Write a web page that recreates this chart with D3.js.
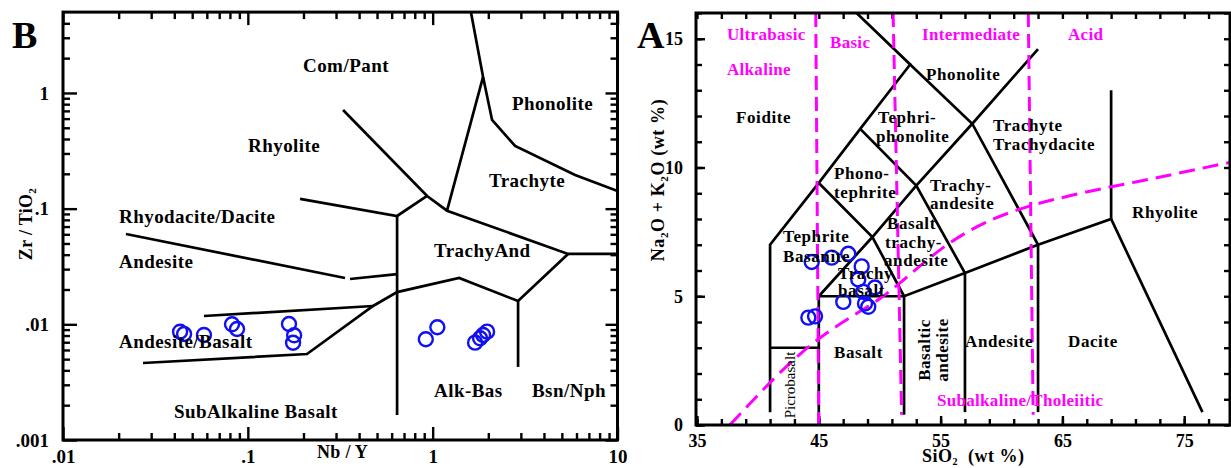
<!DOCTYPE html>
<html><head><meta charset="utf-8">
<script src="https://cdn.jsdelivr.net/npm/d3@7"></script>
<style>
body{margin:0;background:#fff;}
svg{display:block;}
text{font-family:"Liberation Serif","Times New Roman",serif;font-weight:bold;}
</style></head><body>
<svg id="c" width="1231" height="468"></svg>
<script>
// ================= Panel B : Zr/TiO2 vs Nb/Y =================
const bNbY    = [0.043,0.0452,0.0579,0.0821,0.0874,0.167,0.178,0.1757,0.918,1.06,1.696,1.805,1.874,1.97];
const bZrTiO2 = [0.00863,0.00825,0.00809,0.0100,0.00911,0.01006,0.00804,0.00693,0.00743,0.00943,0.00694,0.00757,0.00809,0.00864];
const bXTicks = [0.01,0.1,1,10];
const bXTickLabels = [".01",".1","1","10"];
const bYTicks = [0.001,0.01,0.1,1];
const bYTickLabels = [".001",".01",".1","1"];
const bFieldLines = [
  [[1.614,4.9],[1.874,1.375],[2.096,0.584],[2.792,0.348],[5.897,0.1954],[10,0.142]],
  [[1.874,1.375],[1.196,0.096]],
  [[0.3275,0.713],[0.933,0.1287],[1.196,0.096],[5.403,0.0406],[10,0.0406]],
  [[0.1917,0.1213],[0.642,0.0864],[0.933,0.1287]],
  [[0.642,0.0864],[0.642,0.001645]],
  [[0.0219,0.0604],[0.3357,0.02515]],
  [[0.357,0.02466],[0.642,0.0272]],
  [[0.0271,0.00463],[0.209,0.00554],[0.476,0.0144],[0.642,0.019],[1.39,0.02515],[2.898,0.0159],[5.403,0.0406]],
  [[0.0579,0.0118],[0.476,0.0144]],
  [[2.898,0.0159],[2.898,0.00428]]
];
const bFieldNames = ["Com/Pant","Phonolite","Rhyolite","Trachyte","Rhyodacite/Dacite","Andesite",
  "TrachyAnd","Andesite/Basalt","SubAlkaline Basalt","Alk-Bas","Bsn/Nph"];

// ================= Panel A : TAS =================
const aSiO2   = [44.42,46.06,47.42,48.52,48.24,49.61,48.65,47.01,48.79,49.06,44.14,44.69];
const aAlkali = [6.33,6.50,6.65,6.16,5.65,5.34,5.17,4.78,4.72,4.59,4.17,4.22];
const aXTicks = [35,45,55,65,75];
const aYTicks = [0,5,10,15];
const tasLines = [
  [[41,0.5],[41,7],[45,9.4],[48.4,11.5],[52.5,14],[48.1,16]],
  [[41,3],[45,3]],
  [[45,0],[45,5],[52,5],[57,5.9],[63,7],[69,8],[76.5,0.5]],
  [[52,5],[52,0.4]],
  [[57,5.9],[57,0.5]],
  [[63,7],[63,0.5]],
  [[69,8],[69,13]],
  [[45,5],[49.4,7.3],[53,9.3],[57.6,11.7],[63,14.6]],
  [[45,9.4],[49.4,7.3],[52,5]],
  [[48.4,11.5],[53,9.3],[57,5.9]],
  [[52.5,14],[57.6,11.7],[63,7]]
];
const silicaDivisions = [[[44.75,16],[45,0]],[[51.1,16],[51.8,0.4]],[[62.2,16],[62.6,0.4]]];
const alkalineCurve = [[37.7,0],[45,3.35],[48,4.3],[50,4.9],[52,5.65],[54,6.45],[56,7.15],[59.6,8.05],
  [62.3,8.5],[65.6,8.9],[68.9,9.24],[72.4,9.57],[78.76,10.2]];

// ================= drawing =================
const svg = d3.select("#c");
const MAG = "#ff00ff", BLUE = "#1010f0";

function addAxis(axisFn, scale, values, size, transform, labels, fs, pad){
  const ax = axisFn(scale).tickValues(values).tickSizeInner(-size).tickSizeOuter(0).tickPadding(pad)
    .tickFormat(labels ? (d => labels[values.indexOf(d)]) : (() => ""));
  const g = svg.append("g").attr("transform", transform).call(ax);
  g.select(".domain").remove();
  g.selectAll(".tick line").attr("stroke","#000").attr("stroke-width",2.4);
  g.selectAll(".tick text").attr("fill","#000").attr("font-size",fs);
  return g;
}
function label(x,y,t,fs,opts={}){
  const tx = svg.append("text").attr("x",x).attr("y",y).attr("font-size",fs)
    .attr("fill",opts.fill||"#000").text(t);
  if(opts.ls!=null) tx.attr("letter-spacing",opts.ls);
  if(opts.anchor) tx.attr("text-anchor",opts.anchor);
  if(opts.weight) tx.style("font-weight",opts.weight);
  return tx;
}

// ---------- Panel B ----------
const xB = d3.scaleLog().domain([0.01,10]).range([63,617.5]);
const yB = d3.scaleLog().domain([0.001,5]).range([440,12.1]);
const minorX = [], minorY = [];
[0.01,0.1,1].forEach(d=>{for(let k=2;k<=9;k++) minorX.push(d*k);});
[0.001,0.01,0.1].forEach(d=>{for(let k=2;k<=9;k++) minorY.push(d*k);});
[2,3,4].forEach(k=>minorY.push(k));
const bL=63,bR=617.5,bT=12.1,bBt=440;

addAxis(d3.axisBottom,xB,bXTicks,13,`translate(0,${bBt})`,bXTickLabels,19,9.5);
addAxis(d3.axisBottom,xB,minorX,7,`translate(0,${bBt})`,null,19,3);
addAxis(d3.axisTop,xB,bXTicks,13,`translate(0,${bT})`,null,19,3);
addAxis(d3.axisTop,xB,minorX,7,`translate(0,${bT})`,null,19,3);
addAxis(d3.axisLeft,yB,bYTicks,14,`translate(${bL},0)`,bYTickLabels,19,14);
addAxis(d3.axisLeft,yB,minorY,7,`translate(${bL},0)`,null,19,3);
addAxis(d3.axisRight,yB,bYTicks,12,`translate(${bR},0)`,null,19,3);
addAxis(d3.axisRight,yB,minorY,7,`translate(${bR},0)`,null,19,3);
svg.append("rect").attr("x",bL).attr("y",bT).attr("width",bR-bL).attr("height",bBt-bT)
  .attr("fill","none").attr("stroke","#000").attr("stroke-width",3);

const lineB = d3.line().x(d=>xB(d[0])).y(d=>yB(d[1]));
svg.append("g").selectAll("path").data(bFieldLines).join("path").attr("d",lineB)
  .attr("fill","none").attr("stroke","#000").attr("stroke-width",2.7).attr("stroke-linejoin","miter");

svg.append("g").selectAll("circle").data(bNbY).join("circle")
  .attr("cx",d=>xB(d)).attr("cy",(d,i)=>yB(bZrTiO2[i])).attr("r",7)
  .attr("fill","none").attr("stroke",BLUE).attr("stroke-width",2.4);

const bLabPos = [[303,72],[512,110],[248,152],[489,187],[119,223],[119,268],[434,257],[119,348],[174,418],[434,397],[532,397]];
bFieldNames.forEach((t,i)=>label(bLabPos[i][0],bLabPos[i][1],t,19,{ls:0.45}));
label(12,48,"B",38);
label(317,458,"Nb / Y",18,{ls:0.3});
{
  const t = svg.append("text").attr("transform","translate(32,224) rotate(-90)")
    .attr("text-anchor","middle").attr("font-size",18).attr("letter-spacing",0.3);
  t.append("tspan").text("Zr / TiO");
  t.append("tspan").attr("font-size",11).attr("dy",4).text("2");
}

// ---------- Panel A ----------
const xA = d3.scaleLinear().domain([35,78.76]).range([697,1230]);
const yA = d3.scaleLinear().domain([0,16]).range([425,13]);
const aL=696,aR=1230,aT=13,aBt=425;
const aMinorX = d3.range(35,79,2);
const aMinorY = d3.range(0,17,1);

addAxis(d3.axisBottom,xA,aXTicks,9,`translate(0,${aBt})`,aXTicks.map(String),18,9);
addAxis(d3.axisBottom,xA,aMinorX,6,`translate(0,${aBt})`,null,18,3);
addAxis(d3.axisTop,xA,aMinorX,6,`translate(0,${aT})`,null,18,3);
addAxis(d3.axisLeft,yA,aYTicks,9,`translate(${aL},0)`,aYTicks.map(String),18,13);
addAxis(d3.axisLeft,yA,aMinorY,6,`translate(${aL},0)`,null,18,3);
addAxis(d3.axisRight,yA,aMinorY,6,`translate(${aR},0)`,null,18,3);

const lineA = d3.line().x(d=>xA(d[0])).y(d=>yA(d[1]));
svg.append("g").selectAll("path").data(tasLines).join("path").attr("d",lineA)
  .attr("fill","none").attr("stroke","#000").attr("stroke-width",2.7);

svg.append("g").selectAll("path").data(silicaDivisions).join("path").attr("d",lineA)
  .attr("fill","none").attr("stroke",MAG).attr("stroke-width",3).attr("stroke-dasharray","14,7");
svg.append("path").datum(alkalineCurve).attr("d",lineA.curve(d3.curveMonotoneX))
  .attr("fill","none").attr("stroke",MAG).attr("stroke-width",3).attr("stroke-dasharray","16,8");

svg.append("rect").attr("x",aL).attr("y",aT).attr("width",aR-aL).attr("height",aBt-aT)
  .attr("fill","none").attr("stroke","#000").attr("stroke-width",3);

svg.append("g").selectAll("circle").data(aSiO2).join("circle")
  .attr("cx",d=>xA(d)).attr("cy",(d,i)=>yA(aAlkali[i])).attr("r",7)
  .attr("fill","none").attr("stroke",BLUE).attr("stroke-width",2.4);

// magenta series labels
[["Ultrabasic",727,40],["Basic",830,48],["Intermediate",922,40],["Acid",1068,40],
 ["Alkaline",727,75],["Subalkaline/Tholeiitic",937,406]]
 .forEach(d=>label(d[1],d[2],d[0],17,{fill:MAG,ls:0.3}));

// field names
[["Foidite",736,123],["Phonolite",926,80],["Tephri-",878,123],["phonolite",876,142],
 ["Trachyte",993,131],["Trachydacite",993,150],["Phono-",834,179],["tephrite",834,198],
 ["Trachy-",930,191],["andesite",930,209],["Basalt",887,229],["trachy-",885,248],["andesite",884,266],
 ["Tephrite",783,242],["Basanite",783,262],["Trachy",838,279],["basalt",838,296],
 ["Basalt",834,358],["Andesite",965,347],["Dacite",1068,347],["Rhyolite",1132,218]]
 .forEach(d=>label(d[1],d[2],d[0],17,{ls:0.6}));

svg.append("text").attr("transform","translate(795,385) rotate(-90)").attr("text-anchor","middle")
  .attr("font-size",15).style("font-weight","normal").text("Picrobasalt");
svg.append("text").attr("transform","translate(930,350) rotate(-90)").attr("text-anchor","middle")
  .attr("font-size",17).attr("letter-spacing",0.5).text("Basaltic");
svg.append("text").attr("transform","translate(948,350) rotate(-90)").attr("text-anchor","middle")
  .attr("font-size",17).attr("letter-spacing",0.5).text("andesite");

label(637,48,"A",38);
{
  const t = svg.append("text").attr("x",922).attr("y",462).attr("font-size",18).attr("letter-spacing",0.5);
  t.append("tspan").text("SiO");
  t.append("tspan").attr("font-size",10).attr("dy",3).text("2");
  t.append("tspan").attr("dy",-3).text("  (wt %)").attr("xml:space","preserve");
  const t2 = svg.append("text").attr("transform","translate(664,180) rotate(-90)")
    .attr("text-anchor","middle").attr("font-size",18).attr("letter-spacing",0.6);
  t2.append("tspan").text("Na");
  t2.append("tspan").attr("font-size",11).attr("dy",4).text("2");
  t2.append("tspan").attr("dy",-4).text("O + K");
  t2.append("tspan").attr("font-size",11).attr("dy",4).text("2");
  t2.append("tspan").attr("dy",-4).text("O  (wt %)");
}
</script>
</body></html>
